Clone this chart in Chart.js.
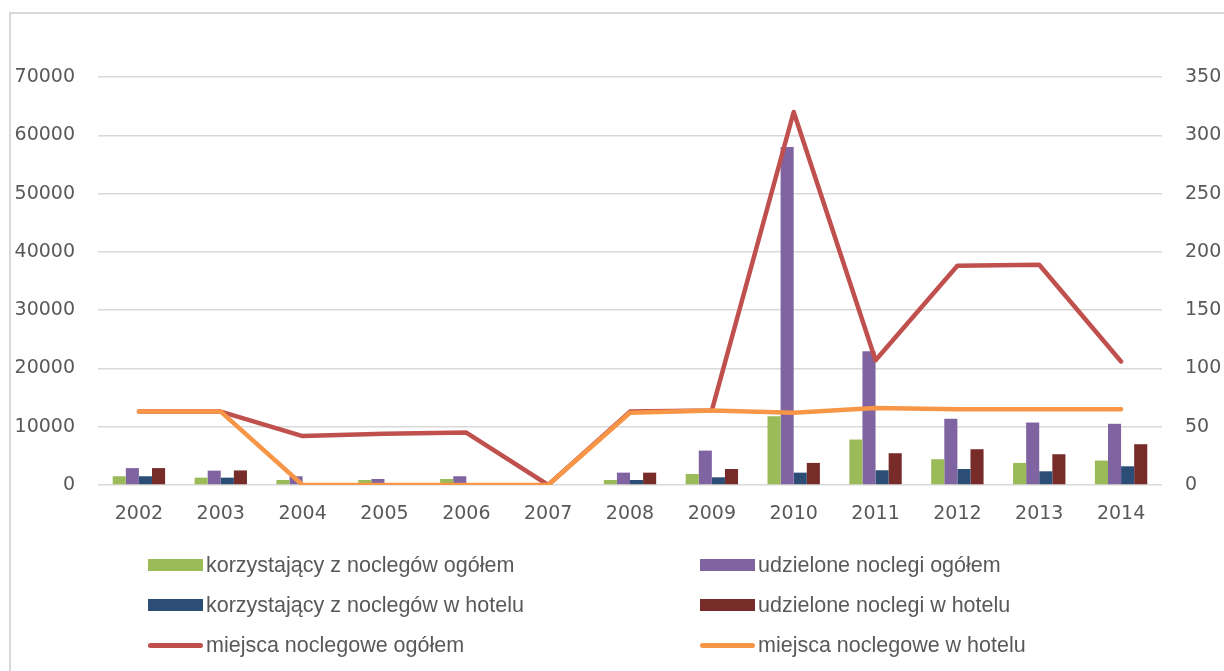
<!DOCTYPE html>
<html>
<head>
<meta charset="utf-8">
<script src="https://cdn.jsdelivr.net/npm/chart.js@4"></script>
<style>
  html, body { margin: 0; padding: 0; background: #fff; overflow: hidden; }
  body { width: 1224px; height: 671px; position: relative; }
  #frame { position: absolute; left: 9px; top: 12px; width: 1300px; height: 800px;
           border-left: 2px solid #d9d9d9; border-top: 2px solid #d9d9d9; box-sizing: border-box; }
  #wrap { position: absolute; left: 0; top: 0; width: 1224px; height: 530px; }
  #legend { position: absolute; left: 0; top: 0; width: 1224px; height: 671px; pointer-events: none;
            font-family: "Liberation Sans", sans-serif; font-size: 21.5px; color: #595959; }
  .item { position: absolute; display: flex; align-items: center; white-space: nowrap; }
  .sw { width: 55px; margin-right: 3px; }
</style>
</head>
<body>
<div id="frame"></div>
<div id="wrap"><canvas id="chart"></canvas></div>
<div id="legend"></div>
<script>
const years = ['2002','2003','2004','2005','2006','2007','2008','2009','2010','2011','2012','2013','2014'];

// bars, left axis
const korzystajacyOgolem = [1500, 1260, 860, 860, 1030, 0, 860, 1890, 11800, 7800, 4420, 3790, 4190];
const udzieloneOgolem    = [2900, 2460, 1500, 1030, 1500, 0, 2120, 5900, 58000, 22950, 11360, 10720, 10500];
const korzystajacyHotel  = [1500, 1260, 0, 0, 0, 0, 860, 1320, 2120, 2530, 2750, 2350, 3210];
const udzieloneHotel     = [2900, 2500, 0, 0, 0, 0, 2120, 2750, 3790, 5450, 6140, 5280, 7000];

// lines, right axis
const miejscaOgolem = [63, 63, 42, 44, 45, 0, 63, 64, 320, 107, 188, 189, 106];
const miejscaHotel  = [63, 63, 0, 0, 0, 0, 62, 64, 62, 66, 65, 65, 65];

const tickFont = { family: 'DejaVu Sans', size: 19 };
const grey = '#595959';

const bar = (label, data, color) => ({
  type: 'bar', label, data, backgroundColor: color, yAxisID: 'y', order: 2,
  barPercentage: 1, categoryPercentage: 0.64
});
const line = (label, data, color, order) => ({
  type: 'line', label, data, borderColor: color, backgroundColor: color, yAxisID: 'y1', order,
  borderWidth: 4.5, pointRadius: 0, tension: 0, borderCapStyle: 'round', borderJoinStyle: 'round'
});

const datasets = [
  bar('korzystający z noclegów ogółem', korzystajacyOgolem, '#9bbb59'),
  bar('udzielone noclegi ogółem', udzieloneOgolem, '#8064a2'),
  bar('korzystający z noclegów w hotelu', korzystajacyHotel, '#2c4d75'),
  bar('udzielone noclegi w hotelu', udzieloneHotel, '#772c2a'),
  line('miejsca noclegowe ogółem', miejscaOgolem, '#c0504d', 1),
  line('miejsca noclegowe w hotelu', miejscaHotel, '#f79646', 0)
];

new Chart(document.getElementById('chart'), {
  data: { labels: years, datasets },
  options: {
    responsive: true, maintainAspectRatio: false, animation: false,
    layout: { padding: { top: 77, bottom: 0, left: 0, right: 0 } },
    plugins: { legend: { display: false }, tooltip: { enabled: false } },
    scales: {
      x: {
        grid: { display: false, drawTicks: false }, border: { display: false },
        ticks: { font: tickFont, color: grey, padding: 18 },
        afterFit: s => { s.height = 45; }
      },
      y: {
        position: 'left', min: 0, max: 70000,
        grid: { color: '#d9d9d9', lineWidth: 1.5, drawTicks: false }, border: { display: false },
        ticks: { stepSize: 10000, font: tickFont, color: grey, padding: 23, callback: v => String(v) },
        afterFit: s => { s.width = 98; }
      },
      y1: {
        position: 'right', min: 0, max: 350,
        grid: { display: false, drawTicks: false }, border: { display: false },
        ticks: { stepSize: 50, font: tickFont, color: grey, padding: 23, callback: v => String(v) },
        afterFit: s => { s.width = 62; }
      }
    }
  }
});

// two-column legend, same look as the original
const legend = document.getElementById('legend');
const cols = [148, 700];
const rows = [565, 605, 645];
datasets.forEach((ds, i) => {
  const item = document.createElement('div');
  item.className = 'item';
  item.style.left = cols[i % 2] + 'px';
  item.style.top = (rows[Math.floor(i / 2)] - 13) + 'px';
  item.style.height = '26px';
  const sw = document.createElement('span');
  sw.className = 'sw';
  if (ds.type === 'bar') {
    sw.style.height = '12px';
    sw.style.background = ds.backgroundColor;
  } else {
    sw.style.height = '5px';
    sw.style.borderRadius = '3px';
    sw.style.background = ds.borderColor;
  }
  const txt = document.createElement('span');
  txt.textContent = ds.label;
  item.appendChild(sw);
  item.appendChild(txt);
  legend.appendChild(item);
});
</script>
</body>
</html>
